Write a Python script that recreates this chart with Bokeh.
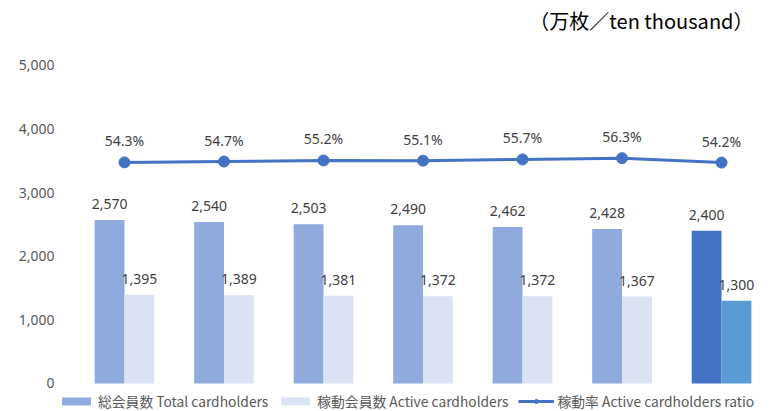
from bokeh.plotting import figure
from bokeh.models import (ColumnDataSource, Range1d, NumeralTickFormatter,
                          Label, Legend, LegendItem, FixedTicker)
from bokeh.transform import dodge
from bokeh.embed import file_html
from bokeh.resources import INLINE
from bokeh.core.properties import value

# ---- data ----
total = [2570, 2540, 2503, 2490, 2462, 2428, 2400]
active = [1395, 1389, 1381, 1372, 1372, 1367, 1300]
ratio = [54.3, 54.7, 55.2, 55.1, 55.7, 56.3, 54.2]
y_ticks = [0, 1000, 2000, 3000, 4000, 5000]
series_names = ["総会員数 Total cardholders", "稼動会員数 Active cardholders",
                "稼動率 Active cardholders ratio"]
unit_text = "（万枚／ten thousand）"

n = len(total)
idx = list(range(n))
total_colors = ["#8faadc"] * (n - 1) + ["#4472c4"]
active_colors = ["#dae3f3"] * (n - 1) + ["#5b9bd5"]

src = ColumnDataSource(dict(
    x=idx, total=total, active=active, ratio=ratio,
    total_lbl=[f"{v:,}" for v in total],
    active_lbl=[f"{v:,}" for v in active],
    ratio_lbl=[f"{v:.1f}%" for v in ratio],
    tc=total_colors, ac=active_colors,
))

FONT = "Noto Sans"
LBL = "#404040"

# frame spans the whole canvas height; ranges chosen so 0..5000 sits at y 383..65
p = figure(width=769, height=411, output_backend="svg", toolbar_location=None,
           x_range=Range1d(-0.6633, 6.482), y_range=Range1d(-440.3, 6022),
           min_border_left=58, min_border_right=0, min_border_top=0,
           min_border_bottom=0)
p.extra_y_ranges = {"r": Range1d(-63.21, 130.66)}
p.xaxis.visible = False
p.grid.visible = False
p.outline_line_color = None

ya = p.yaxis[0]
ya.ticker = FixedTicker(ticks=y_ticks)
ya.formatter = NumeralTickFormatter(format="0,0")
ya.axis_line_color = None
ya.major_tick_line_color = None
ya.minor_tick_line_color = None
ya.major_tick_out = 0
ya.major_tick_in = 0
ya.major_label_standoff = 4
ya.major_label_text_font = FONT
ya.major_label_text_font_size = "14px"
ya.major_label_text_color = "#595959"

b1 = p.vbar(x=dodge("x", -0.15), top="total", width=0.3, fill_color="tc",
            line_color=None, source=src)
b2 = p.vbar(x=dodge("x", 0.15), top="active", width=0.3, fill_color="ac",
            line_color=None, source=src)

p.text(x=dodge("x", -0.15), y="total", text="total_lbl", text_align="center",
       text_baseline="bottom", y_offset=-11, text_font=value(FONT),
       text_font_size="14px", text_color=LBL, source=src)
p.text(x=dodge("x", 0.15), y="active", text="active_lbl", text_align="center",
       text_baseline="bottom", y_offset=-11, text_font=value(FONT),
       text_font_size="14px", text_color=LBL, source=src)

ln = p.line("x", "ratio", y_range_name="r", line_color="#4472c4", line_width=3,
            source=src)
mk = p.scatter("x", "ratio", y_range_name="r", marker="circle", size=11,
               fill_color="#4472c4", line_color="#4472c4", source=src)
p.text("x", "ratio", y_range_name="r", text="ratio_lbl", text_align="center",
       text_baseline="bottom", y_offset=-12, text_font=value(FONT),
       text_font_size="14px", text_color=LBL, source=src)

p.add_layout(Label(x=6.321, y=5708, text=unit_text, text_align="right",
                   text_baseline="middle",
                   text_font="Noto Sans CJK JP", text_font_size="20px",
                   text_color="#000000"))

legend = Legend(items=[
    LegendItem(label=series_names[0], renderers=[b1], index=0),
    LegendItem(label=series_names[1], renderers=[b2], index=0),
    LegendItem(label=series_names[2], renderers=[ln, mk]),
], location=(0, 0), orientation="horizontal", background_fill_alpha=0,
    border_line_color=None, padding=0, margin=0, spacing=9,
    glyph_width=36, glyph_height=10, label_height=10, label_standoff=4,
    label_text_font="Noto Sans CJK JP", label_text_font_size="13.8px",
    label_text_color="#595959", label_text_baseline="middle")
p.add_layout(legend, "center")

open("out.html", "w").write(file_html(p, INLINE))
